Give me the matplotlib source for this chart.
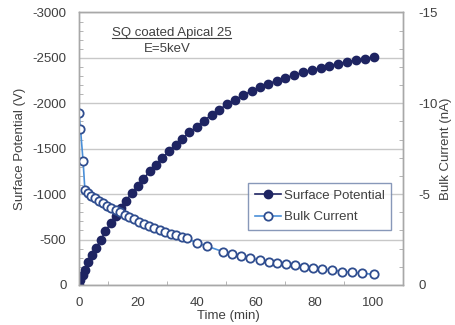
import matplotlib
matplotlib.use("Agg")
import matplotlib.pyplot as plt
from matplotlib.lines import Line2D
from matplotlib.ticker import MultipleLocator

plt.rcParams["font.family"] = ["Liberation Sans", "DejaVu Sans"]
plt.rcParams["axes.unicode_minus"] = False

# Surface potential (V, negative values) vs time (min)
SP_TIME = [0, 0.5, 1.2, 2.0, 3.2, 4.5, 5.9, 7.4, 9.0, 10.7, 12.4, 14.2, 16.0, 17.9,
           19.9, 21.9, 24.0, 26.1, 28.3, 30.5, 32.8, 35.1, 37.5, 39.9, 42.4, 45.0,
           47.6, 50.3, 53.0, 55.8, 58.6, 61.4, 64.3, 67.2, 70.1, 73.0, 76.0, 79.0,
           82.0, 85.0, 88.0, 91.0, 94.0, 97.0, 100.0]
SP_VALUE = [0, -50, -110, -170, -250, -330, -410, -500, -590, -680, -760, -850, -930, -1010,
            -1090, -1170, -1250, -1320, -1400, -1470, -1540, -1610, -1680, -1740, -1810, -1870,
            -1930, -1990, -2040, -2090, -2135, -2175, -2215, -2250, -2280, -2310, -2340, -2365,
            -2390, -2415, -2435, -2455, -2475, -2490, -2510]

# Bulk current (nA, negative values) vs time (min)
BC_TIME = [0, 0.5, 1.4, 2.0, 2.9, 4.0, 5.3, 6.7, 8.1, 9.6, 11.0, 12.5, 14.0, 15.5,
           17.1, 18.7, 20.4, 22.1, 23.8, 25.6, 27.4, 29.2, 31.1, 33.0, 34.9, 36.7,
           40.0, 43.4, 49.0, 52.0, 54.9, 58.2, 61.6, 64.4, 67.3, 70.3, 73.3, 76.3,
           79.3, 82.5, 85.9, 89.3, 92.7, 96.2, 100.0]
BC_VALUE = [-9.45, -8.6, -6.8, -5.25, -5.08, -4.92, -4.78, -4.64, -4.50, -4.35, -4.23, -4.12,
            -4.00, -3.87, -3.75, -3.63, -3.48, -3.37, -3.25, -3.13, -3.02, -2.92, -2.82,
            -2.74, -2.66, -2.56, -2.32, -2.14, -1.83, -1.69, -1.59, -1.47, -1.37, -1.28,
            -1.19, -1.14, -1.09, -1.01, -0.96, -0.87, -0.82, -0.74, -0.70, -0.64, -0.59]

NAVY = "#1e2462"
LIGHT_BLUE = "#4a8fd8"
EDGE_BLUE = "#2f4d8f"
AXIS_GRAY = "#a8a8a8"
TEXT = "#404040"
FS = 9.5

fig = plt.figure(figsize=(4.55, 3.25), dpi=100)
ax = fig.add_axes([0.1736, 0.1231, 0.7121, 0.8385])
ax2 = ax.twinx()

ax.plot(SP_TIME, SP_VALUE, color=NAVY, linewidth=1.2, marker="o", markersize=6,
        markerfacecolor=NAVY, markeredgecolor=NAVY, label="Surface Potential")
ax2.plot(BC_TIME, BC_VALUE, color=LIGHT_BLUE, linewidth=1.2, marker="o", markersize=6,
         markerfacecolor="white", markeredgecolor=EDGE_BLUE, markeredgewidth=1.3,
         label="Bulk Current")

ax.set_xlim(0, 110)
ax.set_ylim(0, -3000)
ax2.set_ylim(0, -15)

ax.xaxis.set_major_locator(MultipleLocator(20))
ax.xaxis.set_minor_locator(MultipleLocator(10))
ax.yaxis.set_major_locator(MultipleLocator(500))
ax.yaxis.set_minor_locator(MultipleLocator(100))
ax2.yaxis.set_major_locator(MultipleLocator(5))
ax2.yaxis.set_minor_locator(MultipleLocator(1))
ax.set_xticks([0, 20, 40, 60, 80, 100])

ax.grid(True, axis="y", color="#c8c8c8", linewidth=1.0)
ax.set_axisbelow(True)

for a in (ax, ax2):
    for s in a.spines.values():
        s.set_color(AXIS_GRAY)
        s.set_linewidth(1.0)
    a.tick_params(which="both", direction="in", color=AXIS_GRAY, labelsize=FS, labelcolor=TEXT)
    a.tick_params(which="major", length=0)
    a.tick_params(which="minor", length=3)

ax.tick_params(axis="y", pad=9)
ax.tick_params(axis="x", pad=9)
ax2.tick_params(axis="y", pad=11)

ax.set_xlabel("Time (min)", fontsize=FS, color=TEXT)
ax.set_ylabel("Surface Potential (V)", fontsize=FS, color=TEXT)
ax2.set_ylabel("Bulk Current (nA)", fontsize=FS, color=TEXT)
ax.xaxis.set_label_coords(0.46, -0.09)
ax.yaxis.set_label_coords(-0.165, 0.5)
ax2.yaxis.set_label_coords(1.115, 0.5)

title = ax.text(0.285, 0.925, "SQ coated Apical 25", transform=ax.transAxes,
                ha="center", va="center", fontsize=FS, color=TEXT)
ax.text(0.272, 0.865, "E=5keV", transform=ax.transAxes,
        ha="center", va="center", fontsize=FS, color=TEXT)

handles = ax.get_legend_handles_labels()[0] + ax2.get_legend_handles_labels()[0]
leg = ax2.legend(handles=handles, loc="upper right", bbox_to_anchor=(0.963, 0.374),
                 fontsize=FS, frameon=True, fancybox=False, handlelength=2.0,
                 handletextpad=0.2, borderpad=0.5, labelspacing=0.7, borderaxespad=0)
leg.get_frame().set_edgecolor("#6a7fa8")
leg.get_frame().set_linewidth(1.0)
for t in leg.get_texts():
    t.set_color(TEXT)

# underline the title text
fig.canvas.draw()
bb = title.get_window_extent().transformed(fig.transFigure.inverted())
fig.add_artist(Line2D([bb.x0, bb.x1], [bb.y0 + 0.002, bb.y0 + 0.002],
                      transform=fig.transFigure, color=TEXT, linewidth=0.8))

fig.savefig("out.png", dpi=100)
